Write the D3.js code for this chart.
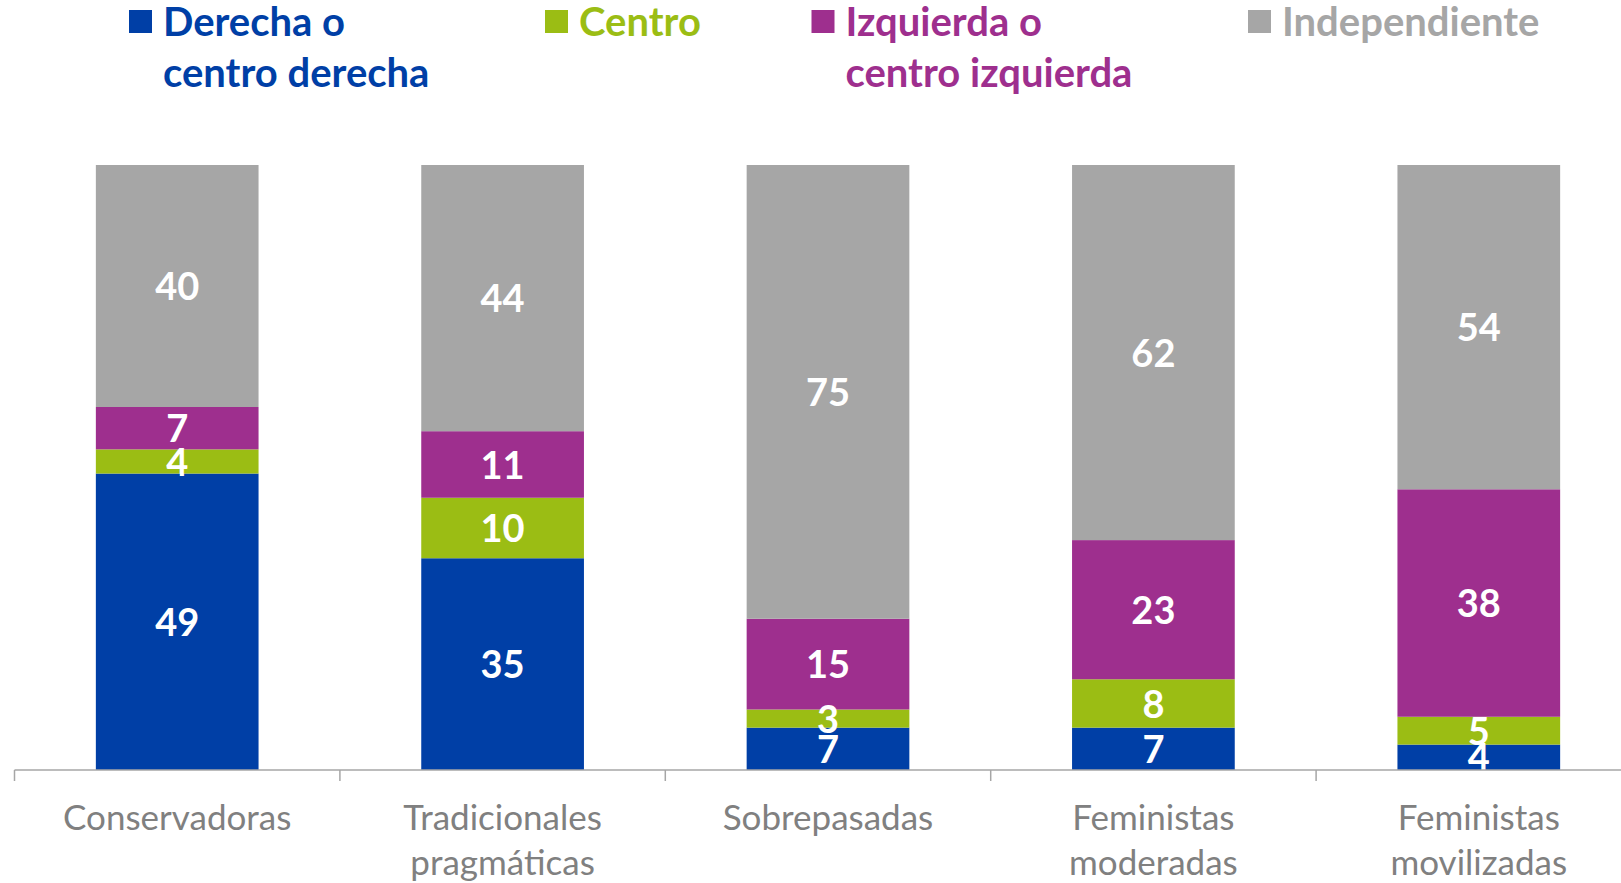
<!DOCTYPE html>
<html><head><meta charset="utf-8">
<script src="https://cdn.jsdelivr.net/npm/d3@7"></script>
<style>body{margin:0;background:#fff}svg{display:block}</style>
</head><body>
<script>
const categories = ["Conservadoras", "Tradicionales\npragmáticas", "Sobrepasadas", "Feministas\nmoderadas", "Feministas\nmovilizadas"];
const seriesNames = ["Derecha o\ncentro derecha", "Centro", "Izquierda o\ncentro izquierda", "Independiente"];
const derecha = [49, 35, 7, 7, 4.2];
const centro = [4, 10, 3, 8, 4.6];
const izquierda = [7, 11, 15, 23, 37.6];
const independiente = [40, 44, 75, 62, 53.6];
const colors = ["#003FA6", "#9BBD14", "#9E2F8E", "#A6A6A6"];

const W = 1621, H = 883;
const svg = d3.select("body").append("svg").attr("width", W).attr("height", H);
const font = "Lato, 'Open Sans', sans-serif";

const keys = ["d", "c", "i", "n"];
const seriesArrays = [derecha, centro, izquierda, independiente];
const rows = categories.map((c, j) => {
  const r = {cat: c};
  keys.forEach((k, s) => r[k] = seriesArrays[s][j]);
  return r;
});
const stacked = d3.stack().keys(keys)(rows);

const x = d3.scaleBand().domain(categories).range([14.5, 1641.5]).paddingInner(0.5).paddingOuter(0.25);
const y = d3.scaleLinear().domain([0, 100]).range([770, 165]);

// bars
const g = svg.append("g");
stacked.forEach((layer, s) => {
  g.append("g").selectAll("rect").data(layer).enter().append("rect")
    .attr("x", d => x(d.data.cat))
    .attr("width", x.bandwidth())
    .attr("y", d => y(d[1]))
    .attr("height", d => y(d[0]) - y(d[1]))
    .attr("fill", colors[s]);
});
// labels
stacked.forEach((layer, s) => {
  g.append("g").selectAll("text").data(layer).enter().append("text")
    .attr("x", d => x(d.data.cat) + x.bandwidth() / 2)
    .attr("y", d => (y(d[0]) + y(d[1])) / 2)
    .attr("dy", "0.37em")
    .attr("text-anchor", "middle")
    .attr("fill", "#fff")
    .attr("font-family", font)
    .attr("font-weight", "bold")
    .attr("font-size", 38)
    .text(d => d3.format(".0f")(d[1] - d[0]));
});

// axis
const step = x.step();
const gap = (step - x.bandwidth()) / 2;
const ax = svg.append("g");
ax.append("line").attr("x1", 14.5).attr("x2", W).attr("y1", 770).attr("y2", 770)
  .attr("stroke", "#A6A6A6").attr("stroke-width", 1.5);
ax.selectAll("line.tick").data(categories).enter().append("line").attr("class", "tick")
  .attr("x1", d => x(d) - gap).attr("x2", d => x(d) - gap)
  .attr("y1", 770).attr("y2", 781).attr("stroke", "#A6A6A6").attr("stroke-width", 1.5);
const cl = ax.selectAll("text.cat").data(categories).enter().append("text").attr("class", "cat")
  .attr("text-anchor", "middle").attr("fill", "#808080")
  .attr("font-family", font).attr("font-size", 35);
cl.each(function(d) {
  const t = d3.select(this);
  d.split("\n").forEach((line, k) => {
    t.append("tspan").attr("x", x(d) + x.bandwidth() / 2).attr("y", 830 + k * 45).text(line);
  });
});

// legend
const legendX = [129, 545, 811.5, 1248];
const lg = svg.append("g");
seriesNames.forEach((name, s) => {
  lg.append("rect").attr("x", legendX[s]).attr("y", 10).attr("width", 23).attr("height", 23).attr("fill", colors[s]);
  const t = lg.append("text").attr("fill", colors[s]).attr("font-family", font)
    .attr("font-weight", "bold").attr("font-size", 40);
  name.split("\n").forEach((line, k) => {
    t.append("tspan").attr("x", legendX[s] + 34).attr("y", 36 + k * 51).text(line);
  });
});
</script>
</body></html>
